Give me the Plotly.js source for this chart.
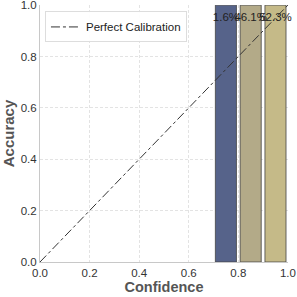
<!DOCTYPE html>
<html><head><meta charset="utf-8">
<script src="https://cdn.plot.ly/plotly-3.0.1.min.js"></script>
<style>html,body{margin:0;padding:0;background:#fff}</style>
</head><body><div id="c" style="width:297px;height:297px"></div>
<script>
const binCenters = [0.75, 0.85, 0.95];
const accuracy = [1.0, 1.0, 1.0];
const binLabels = ["1.6%", "46.1%", "52.3%"];
const barColors = ["#56638a", "#b3aa88", "#c5ba88"];
const diagX = [0, 1];
const diagY = [0, 1];
const tickVals = [0, 0.2, 0.4, 0.6, 0.8, 1.0];
const tickText = ["0.0", "0.2", "0.4", "0.6", "0.8", "1.0"];

const traces = [
  {type:'bar', x: binCenters, y: accuracy, width: 0.085,
   marker:{color: barColors, line:{color:'#444', width:0.8}},
   showlegend:false, hoverinfo:'none'},
  {type:'scatter', mode:'lines', x: diagX, y: diagY, name:'Perfect Calibration',
   line:{color:'#333', width:1, dash:'dashdot'}},
  {type:'scatter', mode:'text', x: binCenters, y: accuracy.map(v=>v*0.95), text: binLabels,
   textposition:'middle center', textfont:{family:'Liberation Sans, Arial', size:11.5, color:'#222'},
   showlegend:false, hoverinfo:'none', cliponaxis:false}
];
const axisCommon = {
  range:[0,1.0005], tickmode:'array', tickvals: tickVals, ticktext: tickText,
  showgrid:true, gridcolor:'#e3e3e3', griddash:'3px,2px', gridwidth:1,
  zeroline:false, showline:true, linecolor:'#c8c8c8', linewidth:1, ticks:'',
  ticklabeloverflow:'allow',
  tickfont:{family:'Liberation Sans, Arial', size:11.5, color:'#333'}
};
const layout = {
  width:297, height:297, margin:{l:40, r:9, t:5, b:35},
  paper_bgcolor:'#fff', plot_bgcolor:'#fff',
  xaxis: Object.assign({}, axisCommon, {title:{text:'<b>Confidence</b>', standoff:3, font:{family:'Liberation Sans, Arial', size:14.5, color:'#555'}}}),
  yaxis: Object.assign({}, axisCommon, {title:{text:'<b>Accuracy</b>', standoff:3, font:{family:'Liberation Sans, Arial', size:15, color:'#555'}}}),
  showlegend:true,
  legend:{x:0.02, y:0.975, xanchor:'left', yanchor:'top', bgcolor:'rgba(255,255,255,0.9)', bordercolor:'#ddd', borderwidth:1,
    font:{family:'Liberation Sans, Arial', size:11.5, color:'#222'}},
  bargap:0
};
Plotly.newPlot('c', traces, layout, {displayModeBar:false, staticPlot:true});
</script></body></html>
